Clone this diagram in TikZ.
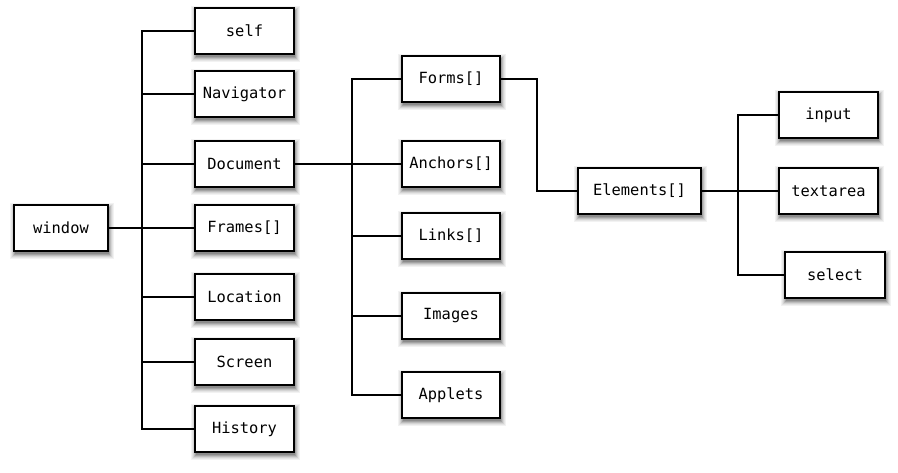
\documentclass[tikz,border=0pt]{standalone}
\usepackage{fontspec}
\setmonofont{DejaVu Sans Mono}
\definecolor{sh1}{gray}{0.95}
\definecolor{sh2}{gray}{0.90}
\definecolor{sh3}{gray}{0.83}
\definecolor{sh4}{gray}{0.74}
\definecolor{sh5}{gray}{0.64}
\definecolor{sh6}{gray}{0.55}
\begin{document}
\begin{tikzpicture}[x=1pt,y=-1pt,
  obj/.style={draw=black, line width=1.1pt, fill=white, minimum height=46pt,
    inner sep=0pt, font=\ttfamily\fontsize{15.4}{17}\selectfont},
  link/.style={draw=black, line width=1.1pt}]
\useasboundingbox (0,0) rectangle (898,472);
% soft drop shadows under the boxes
\foreach \cx/\cy/\w in {61/228/94, 244.5/31/99, 244.5/94/99, 244.5/164/99, 244.5/228/99,
    244.5/297/99, 244.5/362/99, 244.5/429/99, 451/79/98, 451/164/98, 451/236/98,
    451/316/98, 451/395/98, 639.5/191/123, 828.5/115/99, 828.5/191/99, 835/275/100}
  \foreach \r/\c in {5/sh1,4/sh2,3/sh3,2/sh4,1/sh5,0/sh6}
    \fill[\c] (\cx-\w/2+1-\r, \cy-23+3-\r) rectangle (\cx+\w/2+1+\r, \cy+23+3+\r);
\node[obj, minimum width=94pt]  (window) at (61,228) {window};
\node[obj, minimum width=99pt]  (self) at (244.5,31) {self};
\node[obj, minimum width=99pt]  (nav) at (244.5,94) {Navigator};
\node[obj, minimum width=99pt]  (doc) at (244.5,164) {Document};
\node[obj, minimum width=99pt]  (frames) at (244.5,228) {Frames[]};
\node[obj, minimum width=99pt]  (loc) at (244.5,297) {Location};
\node[obj, minimum width=99pt]  (screen) at (244.5,362) {Screen};
\node[obj, minimum width=99pt]  (hist) at (244.5,429) {History};
\node[obj, minimum width=98pt]  (forms) at (451,79) {Forms[]};
\node[obj, minimum width=98pt]  (anchors) at (451,164) {Anchors[]};
\node[obj, minimum width=98pt]  (links) at (451,236) {Links[]};
\node[obj, minimum width=98pt]  (images) at (451,316) {Images};
\node[obj, minimum width=98pt]  (applets) at (451,395) {Applets};
\node[obj, minimum width=123pt] (elems) at (639.5,191) {Elements[]};
\node[obj, minimum width=99pt]  (input) at (828.5,115) {input};
\node[obj, minimum width=99pt]  (textarea) at (828.5,191) {textarea};
\node[obj, minimum width=100pt] (select) at (835,275) {select};
\coordinate (t1) at (142,228);
\coordinate (t2) at (352,164);
\coordinate (t3) at (537,191);
\coordinate (t4) at (738,191);
\draw[link] (window.east) -- (frames.west);
\foreach \n in {self,nav,doc,loc,screen,hist}
  \draw[link] (t1) |- (\n.west);
\draw[link] (doc.east) -- (anchors.west);
\foreach \n in {forms,links,images,applets}
  \draw[link] (t2) |- (\n.west);
\draw[link] (forms.east) -| (t3) -- (elems.west);
\draw[link] (elems.east) -- (textarea.west);
\foreach \n in {input,select}
  \draw[link] (t4) |- (\n.west);
\end{tikzpicture}
\end{document}
